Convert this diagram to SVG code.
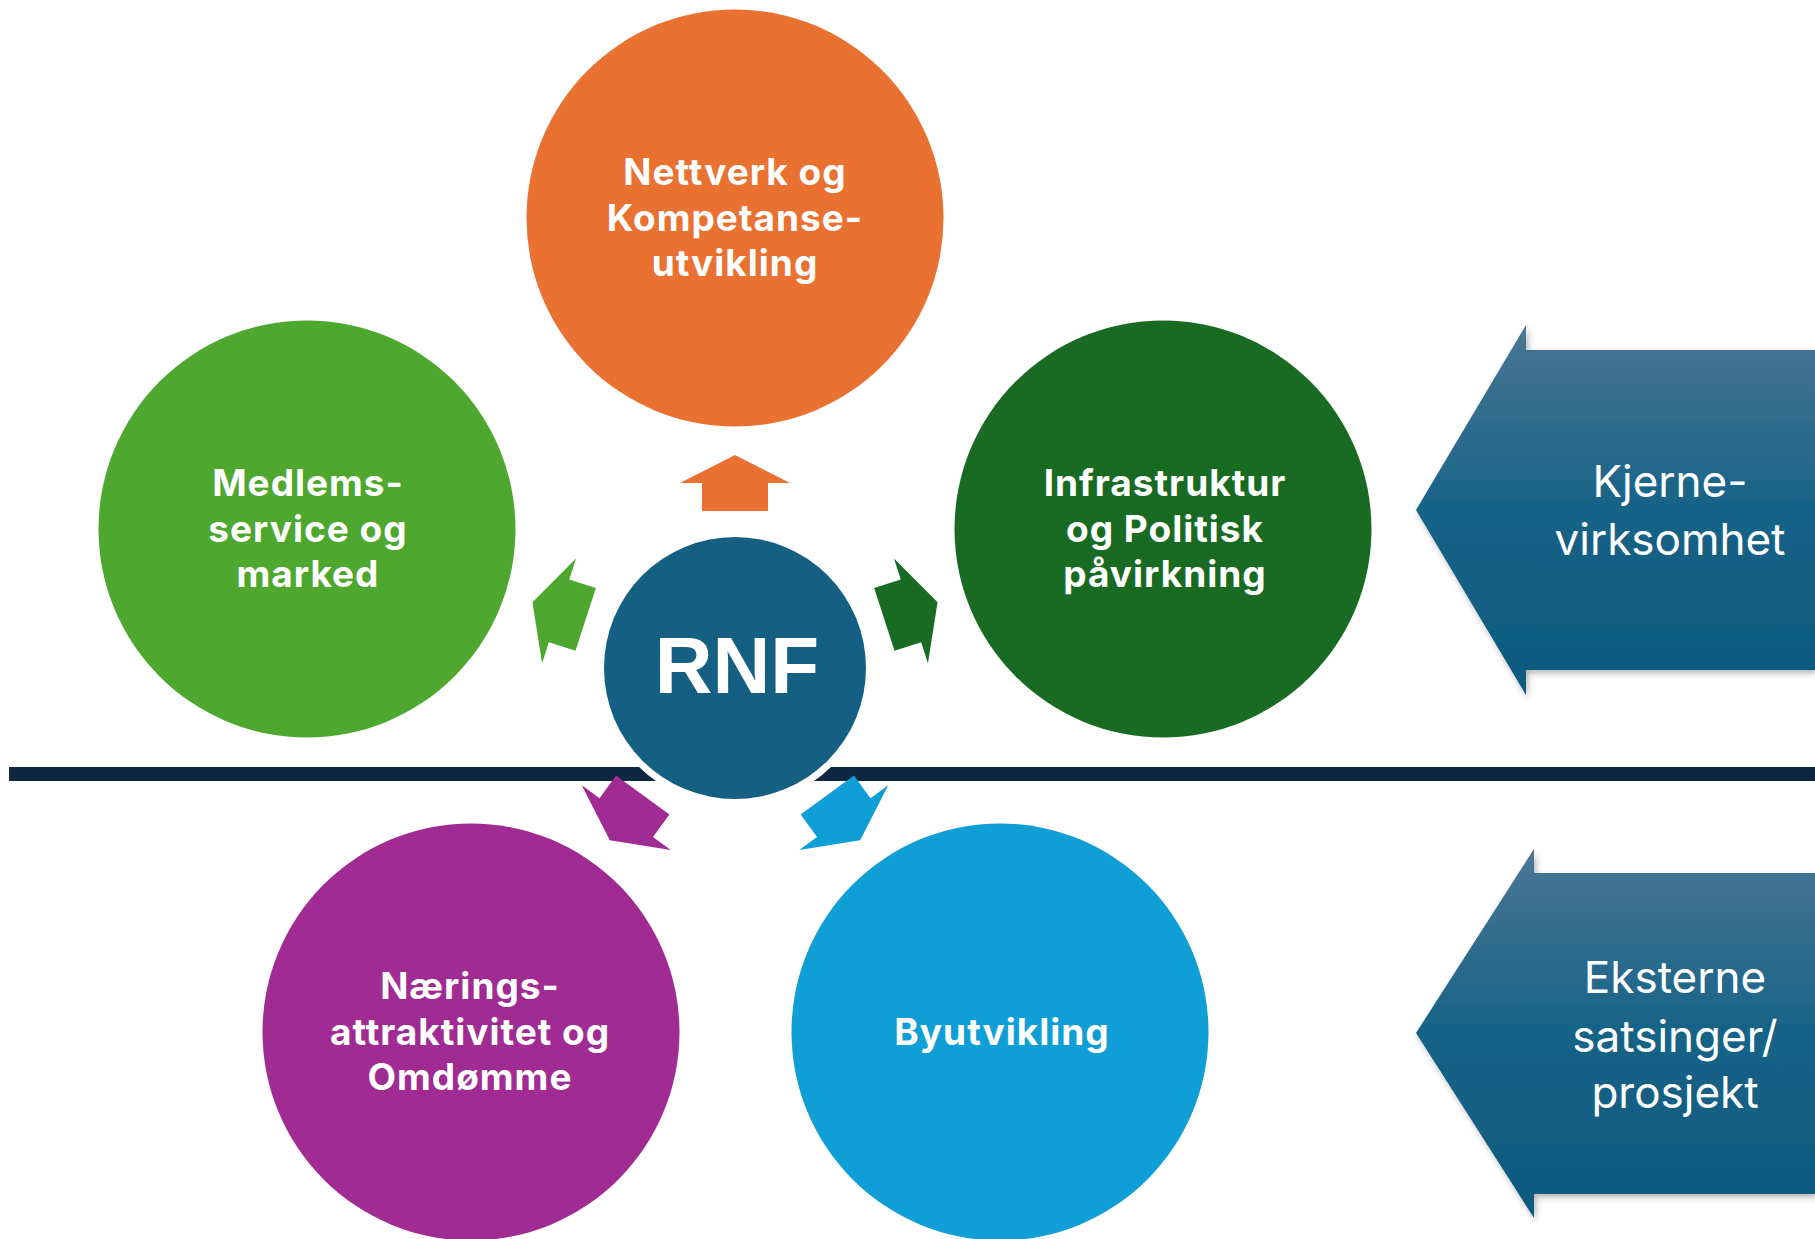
<svg xmlns="http://www.w3.org/2000/svg" width="1815" height="1239" viewBox="0 0 1815 1239">
<style>
.lbl{font-family:Inter,"Open Sans","Liberation Sans",sans-serif;font-weight:700;font-size:37px;fill:#fff;text-anchor:middle;letter-spacing:1px}
.side{font-family:Inter,"Open Sans","Liberation Sans",sans-serif;font-weight:400;font-size:44px;fill:#fff;text-anchor:middle}
.rnf{font-family:"Liberation Sans",Arial,sans-serif;font-weight:700;font-size:80px;fill:#fff;text-anchor:middle}
</style>
<defs>
<linearGradient id="sideGrad" x1="0" y1="0" x2="0" y2="1">
<stop offset="0" stop-color="#4A7593"/>
<stop offset="0.5" stop-color="#176388"/>
<stop offset="1" stop-color="#0E5A7E"/>
</linearGradient>
<filter id="shadow" x="-10%" y="-10%" width="130%" height="130%">
<feDropShadow dx="2" dy="3" stdDeviation="3" flood-color="#000" flood-opacity="0.3"/>
</filter>
<polygon id="arrowShape" points="735,455 790,483 768,483 768,511 702,511 702,483 680,483"/>
</defs>
<rect width="1815" height="1239" fill="#fff"/>

<g id="divider">
<rect x="9" y="767" width="1806" height="14" fill="#0E2841"/>
</g>

<g id="side-kjerne">
<polygon points="1416,510 1526,325 1526,350 1815,350 1815,670 1526,670 1526,695" fill="url(#sideGrad)" filter="url(#shadow)"/>
<text class="side" x="1670" y="497">Kjerne-</text>
<text class="side" x="1670" y="555">virksomhet</text>
</g>

<g id="side-eksterne">
<polygon points="1416,1033 1534,849 1534,873 1815,873 1815,1194 1534,1194 1534,1218" fill="url(#sideGrad)" filter="url(#shadow)"/>
<text class="side" x="1675" y="993">Eksterne</text>
<text class="side" x="1675" y="1052">satsinger/</text>
<text class="side" x="1675" y="1108">prosjekt</text>
</g>

<g id="connectors">
<use href="#arrowShape" fill="#E97132"/>
<use href="#arrowShape" fill="#4EA72E" transform="rotate(-72 735 668)"/>
<use href="#arrowShape" fill="#196B24" transform="rotate(72 735 668)"/>
<use href="#arrowShape" fill="#A02B93" transform="rotate(-144 735 668)"/>
<use href="#arrowShape" fill="#0F9ED5" transform="rotate(144 735 668)"/>
</g>

<g id="node-rnf">
<circle cx="735" cy="668" r="138" fill="#fff"/>
<circle cx="735" cy="668" r="131" fill="#156082"/>
<text class="rnf" x="737" y="693">RNF</text>
</g>

<g id="node-nettverk">
<circle cx="735" cy="218" r="208.5" fill="#E97132"/>
<text class="lbl" x="735" y="185">Nettverk og</text>
<text class="lbl" x="735" y="230.5">Kompetanse-</text>
<text class="lbl" x="735" y="276">utvikling</text>
</g>

<g id="node-medlems">
<circle cx="307" cy="529" r="208.5" fill="#4EA72E"/>
<text class="lbl" x="308" y="496">Medlems-</text>
<text class="lbl" x="308" y="541.5">service og</text>
<text class="lbl" x="308" y="587">marked</text>
</g>

<g id="node-infrastruktur">
<circle cx="1163" cy="529" r="208.5" fill="#196B24"/>
<text class="lbl" x="1165" y="496">Infrastruktur</text>
<text class="lbl" x="1165" y="541.5">og Politisk</text>
<text class="lbl" x="1165" y="587">påvirkning</text>
</g>

<g id="node-naerings">
<circle cx="471" cy="1032" r="208.5" fill="#A02B93"/>
<text class="lbl" x="470" y="999">Nærings-</text>
<text class="lbl" x="470" y="1044.5">attraktivitet og</text>
<text class="lbl" x="470" y="1090">Omdømme</text>
</g>

<g id="node-byutvikling">
<circle cx="1000" cy="1032" r="208.5" fill="#0F9ED5"/>
<text class="lbl" x="1002" y="1045">Byutvikling</text>
</g>
</svg>
